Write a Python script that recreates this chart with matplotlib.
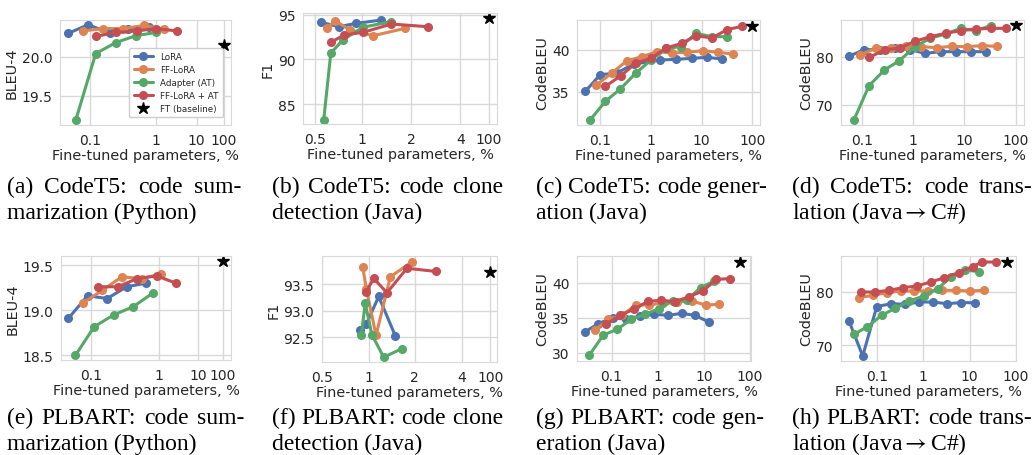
import numpy as np
import matplotlib
matplotlib.use('Agg')
import matplotlib.pyplot as plt
import seaborn as sns

sns.set_style('whitegrid')
plt.rcParams['font.family'] = ['DejaVu Sans']
plt.rcParams['mathtext.fontset'] = 'stix'

colors = {
    'LoRA': '#4C72B0',
    'FF-LoRA': '#DD8452',
    'Adapter (AT)': '#55A868',
    'FF-LoRA + AT': '#C44E52',
}
methods = ['LoRA', 'FF-LoRA', 'Adapter (AT)', 'FF-LoRA + AT']

# (a) CodeT5 code summarization, BLEU-4
A_LORA = ([0.047, 0.094, 0.20, 0.38, 0.77], [20.30, 20.41, 20.30, 20.36, 20.38])
A_FFLORA = ([0.079, 0.159, 0.32, 0.66, 1.6], [20.33, 20.36, 20.36, 20.40, 20.35])
A_AT = ([0.061, 0.122, 0.245, 0.50, 1.0], [19.19, 20.04, 20.18, 20.27, 20.31])
A_FFAT = ([0.123, 0.248, 0.51, 1.0, 3.3], [20.26, 20.31, 20.33, 20.36, 20.33])
A_FT = (100, 20.15)

# (b) CodeT5 clone detection, F1
B_LORA = ([0.552, 0.714, 0.92, 1.31], [94.14, 93.66, 94.03, 94.40])
B_FFLORA = ([0.595, 0.676, 0.841, 1.18, 1.84], [93.48, 94.33, 93.29, 92.66, 93.48])
B_AT = ([0.571, 0.634, 0.761, 1.014, 1.50], [83.29, 90.72, 92.21, 93.59, 94.22])
B_FFAT = ([0.634, 0.77, 1.02, 1.52, 2.53], [91.91, 92.73, 93.03, 93.96, 93.66])
B_FT = (100, 94.59)

# (c) CodeT5 code generation, CodeBLEU
C_LORA = ([0.0506, 0.1, 0.213, 0.455, 1.53, 3.16, 6.44, 12.7, 25.2],
          [35.04, 37.04, 37.24, 38.32, 38.8, 38.88, 39.0, 39.12, 38.92])
C_FFLORA = ([0.0834, 0.170, 0.336, 0.663, 1.31, 2.59, 5.14, 10.6, 20.7, 41.5],
            [35.8, 37.24, 38.72, 39.2, 39.8, 39.64, 39.72, 39.92, 39.72, 39.52])
C_AT = ([0.0635, 0.126, 0.248, 0.506, 1.0, 1.98, 3.91, 7.73, 16.0, 31.6],
        [31.64, 33.84, 35.32, 37.24, 38.8, 40.2, 40.4, 42.0, 41.6, 41.6])
C_FFAT = ([0.126, 0.256, 0.506, 1.0, 1.98, 4.08, 7.73, 16.0, 31.6, 62.5],
          [35.64, 36.92, 38.44, 39.0, 40.24, 40.8, 41.72, 41.44, 42.44, 42.84])
C_FT = (100, 42.9)

# (d) CodeT5 code translation, CodeBLEU
D_LORA = ([0.0566, 0.111, 0.228, 0.446, 0.875, 1.71, 3.46, 6.78, 13.3, 26.0],
          [80.07, 81.46, 81.46, 81.74, 81.46, 80.69, 81.04, 81.04, 81.04, 81.04])
D_FFLORA = ([0.0929, 0.187, 0.373, 0.731, 1.45, 2.89, 5.66, 11.1, 21.8, 44.0],
            [80.35, 81.74, 81.88, 82.29, 82.08, 81.88, 82.15, 82.08, 82.29, 82.15])
D_AT = ([0.071, 0.139, 0.277, 0.542, 1.09, 2.14, 4.33, 8.49, 16.6, 32.6],
        [66.88, 73.96, 77.22, 79.17, 82.08, 83.82, 84.72, 85.9, 85.42, 86.46])
D_FFAT = ([0.141, 0.285, 0.558, 1.09, 2.14, 4.33, 8.49, 16.6, 32.6, 64.9],
          [79.86, 81.46, 81.81, 83.19, 84.17, 84.86, 85.42, 85.76, 85.9, 85.9])
D_FT = (100, 86.6)

# (e) PLBART code summarization, BLEU-4
E_LORA = ([0.0466, 0.089, 0.173, 0.333, 0.64], [18.91, 19.16, 19.13, 19.26, 19.30])
E_FFLORA = ([0.0755, 0.147, 0.281, 0.551, 1.10], [19.08, 19.22, 19.37, 19.35, 19.40])
E_AT = ([0.059, 0.112, 0.217, 0.417, 0.80], [18.50, 18.82, 18.95, 19.04, 19.19])
E_FFAT = ([0.128, 0.245, 0.476, 0.914, 2.67], [19.26, 19.26, 19.35, 19.38, 19.30])
E_FT = (100, 19.54)

# (f) PLBART clone detection, F1
F_LORA = ([0.883, 0.966, 1.163, 1.495], [92.64, 92.75, 93.27, 92.53])
F_FFLORA = ([0.915, 0.966, 1.117, 1.386, 1.92], [93.83, 93.41, 92.54, 93.64, 93.92])
F_AT = ([0.897, 0.95, 1.051, 1.254, 1.65], [92.55, 93.14, 92.55, 92.13, 92.29])
F_FFAT = ([0.966, 1.078, 1.318, 1.78, 2.73], [93.36, 93.61, 93.34, 93.80, 93.74])
F_FT = (100, 93.73)

# (g) PLBART code generation, CodeBLEU
G_LORA = ([0.026, 0.0518, 0.105, 0.21, 0.405, 0.849, 1.69, 3.32, 6.41, 12.8],
          [32.95, 34.14, 35.0, 34.76, 35.24, 35.48, 35.33, 35.62, 35.33, 34.38])
G_FFLORA = ([0.044, 0.0849, 0.169, 0.332, 0.663, 1.32, 2.68, 5.44, 10.9, 21.7],
            [33.24, 34.76, 35.33, 36.81, 36.81, 37.14, 37.24, 37.38, 36.81, 36.9])
G_AT = ([0.0327, 0.0663, 0.132, 0.268, 0.535, 1.05, 2.1, 4.25, 8.49, 16.9],
        [29.62, 32.52, 33.33, 34.76, 35.48, 36.29, 37.38, 37.52, 39.29, 40.24])
G_FFAT = ([0.0756, 0.151, 0.301, 0.611, 1.18, 2.39, 4.77, 9.52, 18.7, 37.3],
          [34.05, 35.33, 36.19, 37.33, 37.48, 37.29, 38.0, 38.81, 40.48, 40.57])
G_FT = (61, 43.0)

# (h) PLBART code translation, CodeBLEU
H_LORA = ([0.0253, 0.0499, 0.1, 0.204, 0.409, 0.82, 1.62, 3.24, 6.5, 13.2],
          [74.5, 67.94, 77.2, 77.75, 77.63, 78.06, 78.06, 77.75, 77.94, 77.94])
H_FFLORA = ([0.0416, 0.082, 0.164, 0.33, 0.65, 1.3, 2.61, 5.15, 10.3, 20.7],
            [78.88, 79.31, 79.81, 80.13, 80.13, 80.13, 80.25, 80.25, 80.13, 80.25])
H_AT = ([0.0324, 0.0629, 0.128, 0.249, 0.507, 1.02, 2.04, 4.02, 8.05, 16.2],
        [72.0, 73.44, 75.56, 76.88, 78.25, 79.19, 80.56, 82.75, 84.06, 83.75])
H_FFAT = ([0.0452, 0.092, 0.185, 0.364, 0.73, 1.46, 2.88, 5.79, 11.6, 18.5, 37.0],
          [79.94, 79.94, 80.25, 80.75, 81.06, 81.81, 82.63, 83.56, 84.7, 85.56, 85.56])
H_FT = (64, 85.6)

captions = [
    ('(a) CodeT5: code sum-', 'marization (Python)'),
    ('(b) CodeT5: code clone', 'detection (Java)'),
    ('(c) CodeT5: code gener-', 'ation (Java)'),
    ('(d) CodeT5: code trans-', r'lation (Java$\rightarrow$C#)'),
    ('(e) PLBART: code sum-', 'marization (Python)'),
    ('(f) PLBART: code clone', 'detection (Java)'),
    ('(g) PLBART: code gen-', 'eration (Java)'),
    ('(h) PLBART: code trans-', r'lation (Java$\rightarrow$C#)'),
]


def piecewise_log(ticks, pos):
    # log axis whose decades get squeezed towards the right (the FT point sits at 100%)
    lt = np.log10(ticks)
    s0 = (pos[1] - pos[0]) / (lt[1] - lt[0])
    s1 = (pos[-1] - pos[-2]) / (lt[-1] - lt[-2])
    kx = np.concatenate([[lt[0] - 10], lt, [lt[-1] + 10]])
    ky = np.concatenate([[pos[0] - 10 * s0], pos, [pos[-1] + 10 * s1]])

    def fwd(x):
        x = np.asarray(x, dtype=float)
        return np.interp(np.log10(np.clip(x, 1e-12, None)), kx, ky)

    def inv(y):
        return 10 ** np.interp(np.asarray(y, dtype=float), ky, kx)
    return fwd, inv


# rect = (left, top, right, bottom) in pixels, cap = (left, right, baseline) of caption
panels = [
    dict(data=[A_LORA, A_FFLORA, A_AT, A_FFAT], ft=A_FT, ylabel='BLEU-4',
         xticks=[0.1, 1, 10, 100], scale=([0.1, 1, 10, 100], [270, 468, 590, 672]),
         xlim=(0.0351, 180), ylim=(19.124, 20.47), yticks=[19.5, 20.0], yfmt='{:.1f}',
         rect=(60, 21, 231, 126), cap=(7, 241, 193)),
    dict(data=[B_LORA, B_FFLORA, B_AT, B_FFAT], ft=B_FT, ylabel='F1',
         xticks=[0.5, 1, 2, 4, 100], scale=([0.5, 1, 2, 4, 100], [165, 305, 453, 600, 685]),
         xlim=(0.42, 258), ylim=(82.8, 95.19), yticks=[85, 90, 95], yfmt='{:.0f}',
         rect=(303, 14, 497, 125), cap=(272, 503, 193)),
    dict(data=[C_LORA, C_FFLORA, C_AT, C_FFAT], ft=C_FT, ylabel='CodeBLEU',
         xticks=[0.1, 1, 10, 100], scale=None,
         xlim=(0.0347, 142), ylim=(31.0, 43.6), yticks=[35, 40], yfmt='{:.0f}',
         rect=(577, 21, 760, 126), cap=(536, 767, 193)),
    dict(data=[D_LORA, D_FFLORA, D_AT, D_FFAT], ft=D_FT, ylabel='CodeBLEU',
         xticks=[0.1, 1, 10, 100], scale=None,
         xlim=(0.0395, 145), ylim=(65.76, 87.64), yticks=[70, 80], yfmt='{:.0f}',
         rect=(841, 21, 1024, 126), cap=(792, 1033, 193)),
    dict(data=[E_LORA, E_FFLORA, E_AT, E_FFAT], ft=E_FT, ylabel='BLEU-4',
         xticks=[0.1, 1, 10, 100], scale=([0.1, 1, 10, 100], [273, 478, 595, 668]),
         xlim=(0.0364, 220), ylim=(18.45, 19.6), yticks=[18.5, 19.0, 19.5], yfmt='{:.1f}',
         rect=(61, 257, 231, 361), cap=(7, 244, 424)),
    dict(data=[F_LORA, F_FFLORA, F_AT, F_FFAT], ft=F_FT, ylabel='F1',
         xticks=[0.5, 1, 2, 4, 100], scale=([0.5, 1, 2, 4, 100], [185, 325, 463, 605, 690]),
         xlim=(0.5, 213), ylim=(92.04, 94.03), yticks=[92.5, 93.0, 93.5], yfmt='{:.1f}',
         rect=(322, 257, 497, 363), cap=(272, 503, 424)),
    dict(data=[G_LORA, G_FFLORA, G_AT, G_FFAT], ft=G_FT, ylabel='CodeBLEU',
         xticks=[0.1, 1, 10, 100], scale=None,
         xlim=(0.0178, 105), ylim=(28.81, 43.81), yticks=[30, 35, 40], yfmt='{:.0f}',
         rect=(577, 257, 751, 362), cap=(536, 764, 424)),
    dict(data=[H_LORA, H_FFLORA, H_AT, H_FFAT], ft=H_FT, ylabel='CodeBLEU',
         xticks=[0.1, 1, 10, 100], scale=None,
         xlim=(0.017, 98), ylim=(67.0, 86.69), yticks=[70, 80], yfmt='{:.0f}',
         rect=(841, 257, 1016, 362), cap=(792, 1033, 424)),
]

W, H = 1036, 456
fig = plt.figure(figsize=(W / 100, H / 100), dpi=100)
renderer = fig.canvas.get_renderer()
serif = ['Liberation Serif', 'DejaVu Serif']

for i, p in enumerate(panels):
    l, t, r, b = p['rect']
    ax = fig.add_axes([l / W, 1 - b / H, (r - l) / W, (b - t) / H])
    if p['scale'] is None:
        ax.set_xscale('log')
    else:
        ax.set_xscale('function', functions=piecewise_log(*p['scale']))
    for m, (xs, ys) in zip(methods, p['data']):
        ax.plot(xs, ys, '-o', color=colors[m], lw=2.2, ms=5.5, label=m)
    ax.plot([p['ft'][0]], [p['ft'][1]], '*', color='black', ms=9, label='FT (baseline)', linestyle='none')

    ax.set_xlim(*p['xlim'])
    ax.set_ylim(*p['ylim'])
    ax.set_xticks(p['xticks'])
    ax.set_xticklabels([f'{v:g}' for v in p['xticks']])
    ax.xaxis.set_minor_locator(matplotlib.ticker.NullLocator())
    ax.set_yticks(p['yticks'])
    ax.set_yticklabels([p['yfmt'].format(v) for v in p['yticks']])
    ax.tick_params(labelsize=10, pad=2, colors='0.15')
    ax.set_xlabel('Fine-tuned parameters, %', fontsize=10.4, labelpad=1, color='0.15')
    ax.set_ylabel(p['ylabel'], fontsize=10.4, labelpad=2, color='0.15')
    ax.grid(True, color='0.85', lw=1)
    for s in ax.spines.values():
        s.set_color('0.85')

    if i == 0:
        ax.legend(loc='lower right', bbox_to_anchor=(0.977, 0.03), fontsize=6.3,
                  handlelength=2.2, borderpad=0.5, labelspacing=0.45, framealpha=1,
                  edgecolor='0.8')

    # caption: first line justified between cap left and right, like the paper
    x0, x1, base = p['cap']
    line1, line2 = captions[i]
    words = line1.split(' ')
    txts = [fig.text(0, 1 - base / H, w, ha='left', va='baseline', fontsize=17,
                     family=serif, color='black') for w in words]
    widths = [tx.get_window_extent(renderer).width for tx in txts]
    gap = max((x1 - x0 - sum(widths)) / (len(words) - 1), 3)
    x = x0
    for tx, w in zip(txts, widths):
        tx.set_x(x / W)
        x += w + gap
    fig.text(x0 / W, 1 - (base + 26) / H, line2, ha='left', va='baseline', fontsize=17,
             family=serif, color='black')

plt.savefig('out.png', dpi=100)
plt.close()
